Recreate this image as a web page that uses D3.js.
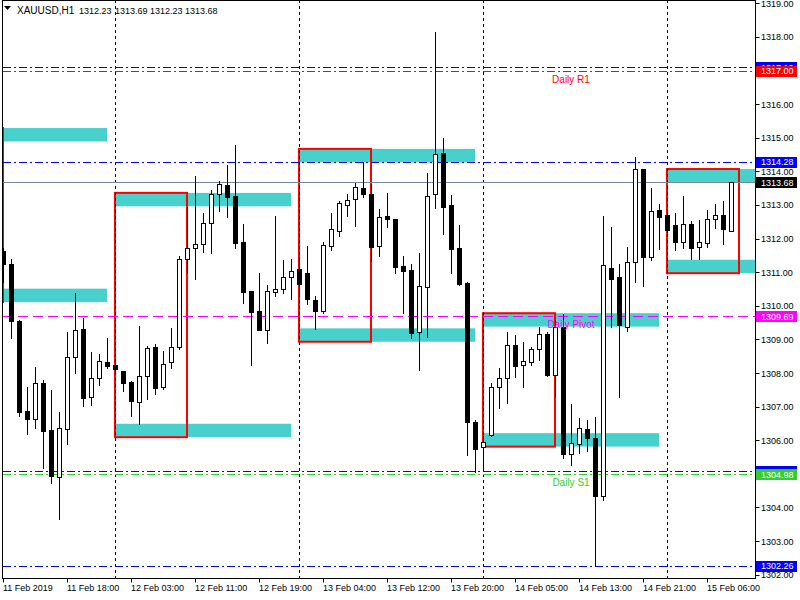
<!DOCTYPE html>
<html><head><meta charset="utf-8">
<script src="https://cdn.jsdelivr.net/npm/d3@7"></script>
<style>html,body{margin:0;padding:0;background:#fff;}svg{display:block;}</style>
</head><body><svg id="c" width="800" height="600"></svg>
<script>
// ---- data (XAUUSD H1) ----
const opens = [1311.63,1311.24,1309.55,1306.87,1306.62,1307.69,1306.30,1304.90,1306.32,1308.48,1309.30,1307.29,1307.84,1308.32,1308.24,1308.06,1307.73,1307.15,1307.92,1308.76,1307.59,1308.32,1308.78,1311.38,1311.71,1311.83,1312.45,1313.32,1313.59,1313.27,1311.90,1310.44,1309.84,1309.29,1310.42,1310.51,1310.85,1311.09,1310.98,1310.17,1309.85,1311.79,1312.23,1313.01,1313.17,1313.51,1313.33,1311.78,1312.66,1312.57,1311.18,1311.06,1309.21,1310.57,1313.32,1314.55,1313.00,1311.71,1310.67,1306.53,1305.81,1306.15,1307.59,1307.84,1308.83,1308.23,1308.34,1308.70,1309.16,1307.95,1309.38,1305.59,1305.88,1306.32,1306.06,1304.35,1311.13,1310.87,1309.38,1311.31,1314.06,1311.44,1312.85,1312.70,1312.40,1311.91,1312.43,1311.76,1311.86,1312.57,1312.70,1312.23];
const highs = [1311.72,1311.38,1309.57,1307.59,1308.17,1307.79,1307.49,1306.83,1309.22,1310.37,1309.64,1308.62,1308.56,1309.03,1308.42,1308.07,1307.76,1309.40,1308.80,1308.86,1308.65,1309.33,1311.48,1312.95,1313.86,1312.75,1313.45,1313.71,1314.19,1314.79,1312.43,1310.45,1310.97,1310.62,1312.67,1311.36,1311.40,1311.44,1311.78,1310.29,1311.89,1312.75,1313.12,1313.33,1313.65,1314.28,1313.62,1312.88,1313.35,1312.58,1311.48,1311.24,1311.58,1313.94,1318.16,1315.00,1313.30,1312.40,1310.70,1306.60,1306.12,1307.69,1308.14,1309.23,1309.13,1308.93,1308.78,1309.38,1309.21,1309.58,1309.75,1307.08,1306.65,1306.60,1306.68,1312.67,1312.35,1311.24,1311.74,1314.43,1314.08,1313.50,1313.03,1312.76,1312.77,1313.27,1312.53,1312.55,1312.85,1313.03,1313.12,1313.69];
const lows = [1310.71,1309.03,1306.73,1306.20,1306.35,1305.17,1304.73,1303.65,1305.89,1307.99,1307.03,1307.05,1307.64,1308.16,1307.99,1307.47,1306.73,1306.47,1307.23,1307.37,1307.51,1308.16,1308.71,1311.01,1310.79,1311.61,1311.56,1312.83,1312.65,1311.71,1310.09,1308.24,1309.27,1308.90,1310.30,1310.39,1310.21,1310.32,1310.05,1309.32,1309.78,1311.66,1312.09,1312.67,1312.37,1313.25,1311.34,1311.49,1312.34,1310.97,1309.78,1309.03,1308.09,1309.06,1312.90,1312.13,1310.97,1310.62,1305.56,1305.05,1305.18,1306.13,1306.95,1307.10,1307.87,1307.59,1308.24,1308.39,1307.91,1307.31,1305.46,1305.26,1305.61,1305.69,1302.26,1304.22,1309.38,1307.29,1309.26,1310.72,1310.59,1311.36,1311.68,1312.20,1311.66,1311.71,1311.38,1311.38,1311.76,1312.32,1311.83,1312.23];
const closes = [1311.23,1309.56,1306.85,1306.62,1307.69,1306.28,1304.93,1306.35,1308.47,1309.28,1307.26,1307.84,1308.35,1308.22,1308.13,1307.71,1307.17,1307.90,1308.73,1307.56,1308.26,1308.78,1311.38,1311.71,1311.83,1312.45,1313.32,1313.62,1313.25,1311.88,1310.42,1309.82,1309.29,1310.43,1310.49,1310.86,1311.03,1310.65,1310.19,1309.84,1311.81,1312.28,1313.06,1313.14,1313.53,1313.32,1311.74,1312.65,1312.57,1311.16,1311.04,1309.20,1310.59,1313.27,1314.52,1312.95,1311.69,1310.65,1306.55,1305.73,1305.95,1307.59,1307.84,1308.83,1308.22,1308.36,1308.71,1309.16,1307.95,1309.36,1305.59,1305.91,1306.35,1306.06,1304.35,1311.20,1310.79,1309.43,1311.29,1314.06,1311.44,1312.83,1312.65,1312.26,1311.91,1312.43,1311.73,1311.90,1312.57,1312.70,1312.29,1313.68];

// session boxes (bar index start/end, price top/bottom)
const boxStart = [-9, 14, 37, 60, 83];
const boxEnd   = [0, 23, 46, 69, 92];
const boxTop   = [1315.29, 1313.36, 1314.67, 1309.78, 1314.07];
const boxBottom= [1310.11, 1306.09, 1308.93, 1305.81, 1310.97];
const zoneBars = 22;
const zoneDepth = 0.40;

// horizontal levels
const levelPrices = [1317.10, 1317.00, 1314.28, 1305.08, 1304.98, 1302.26, 1309.69, 1313.68];
const levelColors = ["#0000ff", "#ff0000", "#0000ff", "#0000ff", "#32cd32", "#0000ff", "#ff00ff", "#778899"];
const levelStyle  = ["dashdot","dashdot","dashdot","dashdot","dashdot","dashdot","dash","solid"];
const levelLabelText = ["1317.10","1317.00","1314.28","1305.08","1304.98","1302.26","1309.69","1313.68"];
const levelLabelBg = ["#0000ff","#ff0000","#0000ff","#0000ff","#32cd32","#0000ff","#ff00ff","#000000"];

const pivotNames = ["Daily R1", "Daily Pivot", "Daily S1"];
const pivotPrices = [1317.00, 1309.69, 1304.98];
const pivotColors = ["#ff0000", "#ff00ff", "#32cd32"];

const separatorBars = [14, 37, 60, 83];
const priceTicks = d3.range(1302, 1320, 1);
const timeTickBars = [0, 8, 16, 24, 32, 40, 48, 56, 64, 72, 80, 88];
const timeTickLabels = ["11 Feb 2019","11 Feb 18:00","12 Feb 03:00","12 Feb 11:00","12 Feb 19:00","13 Feb 04:00","13 Feb 12:00","13 Feb 20:00","14 Feb 05:00","14 Feb 13:00","14 Feb 21:00","15 Feb 06:00"];
const titleText = ["XAUUSD,H1", "1312.23", "1313.69 1312.23 1313.68"];

// ---- layout ----
const L = 2.5, R = 755.5, T = 0.5, B = 578.5;
const x = d3.scaleLinear().domain([0, 1]).range([3.5, 11.5]);
const y = d3.scaleLinear().domain([1301.90, 1319.10]).range([578, 0]);
const sy = p => Math.round(y(p)) + 0.5;
const FONT = "'Liberation Sans', Arial, sans-serif";

const svg = d3.select("#c");
svg.append("rect").attr("width", 800).attr("height", 600).attr("fill", "#fff");
svg.append("defs").append("clipPath").attr("id", "clip")
  .append("rect").attr("x", 3).attr("y", 1).attr("width", R - 3).attr("height", B - 1);

const plot = svg.append("g").attr("clip-path", "url(#clip)");

// zones
const boxes = d3.range(boxStart.length);
plot.selectAll(".zt").data(boxes).join("rect")
  .attr("x", i => x(boxStart[i]) - 0.5).attr("width", i => x(boxStart[i] + zoneBars) - x(boxStart[i]))
  .attr("y", i => y(boxTop[i])).attr("height", i => y(boxTop[i] - zoneDepth) - y(boxTop[i]))
  .attr("fill", "#48d1cc");
plot.selectAll(".zb").data(boxes).join("rect")
  .attr("x", i => x(boxStart[i]) - 0.5).attr("width", i => x(boxStart[i] + zoneBars) - x(boxStart[i]))
  .attr("y", i => y(boxBottom[i] + zoneDepth)).attr("height", i => y(boxBottom[i]) - y(boxBottom[i] + zoneDepth))
  .attr("fill", "#48d1cc");
// red boxes
plot.selectAll(".bx").data(boxes).join("rect")
  .attr("x", i => x(boxStart[i]) - 0.5).attr("width", i => x(boxEnd[i]) - x(boxStart[i]))
  .attr("y", i => y(boxTop[i])).attr("height", i => y(boxBottom[i]) - y(boxTop[i]))
  .attr("fill", "none").attr("stroke", "#ff0000").attr("stroke-width", 2);

// separators
plot.selectAll(".sep").data(separatorBars).join("line")
  .attr("x1", d => Math.floor(x(d)) + 0.5).attr("x2", d => Math.floor(x(d)) + 0.5)
  .attr("y1", 0).attr("y2", B).attr("stroke", "#000").attr("stroke-width", 1)
  .attr("stroke-dasharray", "3,3").attr("shape-rendering", "crispEdges");

// horizontal levels
const dashFor = s => s === "dashdot" ? "8,3,2,3" : (s === "dash" ? "10,5" : null);
plot.selectAll(".lvl").data(levelPrices.map((p, i) => i)).join("line")
  .attr("x1", 3).attr("x2", R)
  .attr("y1", i => sy(levelPrices[i])).attr("y2", i => sy(levelPrices[i]))
  .attr("stroke", i => levelColors[i]).attr("stroke-width", 1)
  .attr("stroke-dasharray", i => dashFor(levelStyle[i]))
  .attr("shape-rendering", "crispEdges");

// candles
const bars = d3.range(opens.length);
const cg = plot.append("g").attr("shape-rendering", "crispEdges");
cg.selectAll(".wick").data(bars).join("line")
  .attr("x1", i => Math.floor(x(i)) + 0.5).attr("x2", i => Math.floor(x(i)) + 0.5)
  .attr("y1", i => Math.round(y(highs[i]))).attr("y2", i => Math.round(y(lows[i])) + 1)
  .attr("stroke", "#000");
cg.selectAll(".body").data(bars).join("rect")
  .attr("x", i => Math.floor(x(i)) - 1.5).attr("width", 4)
  .attr("y", i => sy(Math.max(opens[i], closes[i])))
  .attr("height", i => Math.max(1, sy(Math.min(opens[i], closes[i])) - sy(Math.max(opens[i], closes[i]))))
  .attr("fill", i => closes[i] >= opens[i] ? "#fff" : "#000")
  .attr("stroke", "#000").attr("stroke-width", 1);

// pivot labels
plot.selectAll(".pv").data(pivotNames.map((n, i) => i)).join("text")
  .attr("x", 571).attr("y", i => y(pivotPrices[i]) + 12)
  .attr("text-anchor", "middle").attr("font-family", FONT).attr("font-size", 10)
  .attr("fill", i => pivotColors[i]).text(i => pivotNames[i]);

// frame
svg.append("rect").attr("x", L).attr("y", T).attr("width", R - L).attr("height", B - T)
  .attr("fill", "none").attr("stroke", "#000").attr("stroke-width", 1);

// price axis
const ax = svg.append("g");
ax.selectAll(".pt").data(priceTicks).join("line")
  .attr("x1", R).attr("x2", R + 4).attr("y1", d => sy(d)).attr("y2", d => sy(d)).attr("stroke", "#000");
ax.selectAll(".pl").data(priceTicks).join("text")
  .attr("x", 761).attr("y", d => y(d) + 3.5)
  .attr("font-family", FONT).attr("font-size", 9).attr("fill", "#000")
  .text(d => d3.format(".2f")(d));
// level price labels
const lg = svg.append("g");
levelPrices.forEach((p, i) => {
  const g = lg.append("g");
  g.append("rect").attr("x", 756).attr("y", Math.round(y(p)) - 5).attr("width", 41).attr("height", 11)
    .attr("fill", levelLabelBg[i]);
  g.append("text").attr("x", 761).attr("y", y(p) + 3.5)
    .attr("font-family", FONT).attr("font-size", 9).attr("fill", "#fff").text(levelLabelText[i]);
});

// time axis
const tx = svg.append("g");
tx.selectAll(".tt").data(timeTickBars).join("line")
  .attr("x1", d => Math.floor(x(d)) + 0.5).attr("x2", d => Math.floor(x(d)) + 0.5)
  .attr("y1", B).attr("y2", B + 4).attr("stroke", "#000");
tx.selectAll(".tl").data(timeTickBars.map((d, i) => i)).join("text")
  .attr("x", i => Math.floor(x(timeTickBars[i]))).attr("y", 591)
  .attr("font-family", FONT).attr("font-size", 9).attr("fill", "#000")
  .text(i => timeTickLabels[i]);

// title
svg.append("path").attr("d", "M4,6 L11,6 L7.5,10 Z").attr("fill", "#000");
svg.append("text").attr("x", 17).attr("y", 14).attr("font-family", FONT).attr("font-size", 10).text(titleText[0]);
svg.append("text").attr("x", 79).attr("y", 14).attr("font-family", FONT).attr("font-size", 9).text(titleText[1]);
svg.append("text").attr("x", 115).attr("y", 14).attr("font-family", FONT).attr("font-size", 9).text(titleText[2]);
</script></body></html>
